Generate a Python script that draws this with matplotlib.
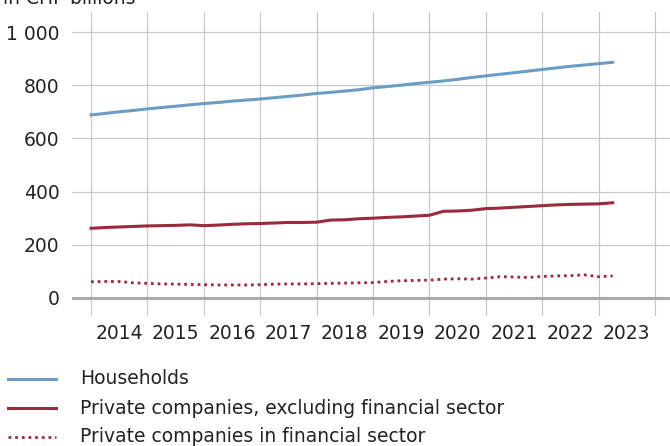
import matplotlib
matplotlib.use("Agg")
import matplotlib.pyplot as plt
from matplotlib.lines import Line2D
import numpy as np

plt.rcParams['font.family'] = ['DejaVu Sans']

# Quarterly time points (decimal years)
quarters = [2014.0 + 0.25 * i for i in range(38)]

households = [688, 694, 700, 705, 711, 716, 721, 726, 731, 735, 740, 744,
              748, 753, 758, 763, 769, 773, 778, 783, 790, 795, 800, 806,
              811, 816, 822, 829, 835, 841, 847, 853, 859, 865, 871, 876,
              881, 886]
private_nonfin = [262, 265, 267, 269, 271, 272, 273, 275, 272, 274, 277, 279,
                  280, 282, 284, 284, 285, 293, 294, 298, 300, 303, 305, 308,
                  311, 326, 327, 330, 336, 338, 341, 344, 347, 350, 352, 353,
                  354, 358]
private_fin = [61, 62, 62, 57, 55, 53, 52, 51, 50, 49, 49, 49,
               50, 52, 53, 53, 54, 55, 56, 57, 58, 62, 65, 66,
               67, 71, 72, 71, 75, 80, 79, 77, 81, 83, 84, 87,
               80, 83]

series_labels = ["Households",
                 "Private companies, excluding financial sector",
                 "Private companies in financial sector"]
year_labels = [str(y) for y in range(2014, 2024)]
y_ticks = [0, 200, 400, 600, 800, 1000]
y_tick_labels = ["0", "200", "400", "600", "800", "1 000"]
unit_label = "in CHF billions"

blue = "#6a9cc6"
red = "#9b2a3a"
grid_c = "#c8c8c8"
text_c = "#222222"

W, H = 670, 446
fig = plt.figure(figsize=(W / 100, H / 100), dpi=100)
ax = fig.add_axes([72 / W, 1 - 316 / H, (670 - 72) / W, (316 - 12) / H])

ax.set_xlim(2013.663, 2024.266)
ax.set_ylim(-67.7, 1075.2)

for s in ax.spines.values():
    s.set_visible(False)

ax.set_yticks(y_ticks)
ax.set_yticklabels(y_tick_labels)
ax.set_xticks(list(range(2014, 2025)))
ax.set_xticklabels([])
ax.set_xticks([y + 0.5 for y in range(2014, 2024)], minor=True)
ax.set_xticklabels(year_labels, minor=True)
ax.tick_params(axis='both', which='both', length=0, labelsize=13.5, colors=text_c)
ax.tick_params(axis='y', pad=9)
ax.tick_params(axis='x', which='minor', pad=6)

ax.grid(True, which='major', color=grid_c, lw=0.9)
ax.set_axisbelow(True)
ax.axhline(0, color='#aaaaaa', lw=2.2, zorder=1.5)

ax.plot(quarters, households, color=blue, lw=2.2, zorder=3)
ax.plot(quarters, private_nonfin, color=red, lw=2.2, zorder=3)
ax.plot(quarters, private_fin, color=red, lw=2.0, linestyle=(0, (1, 1.4)), zorder=3)

fig.text(3 / W, 1 - 4 / H, unit_label, fontsize=13.5, ha='left', va='baseline', color=text_c)

styles = [dict(color=blue, lw=2.2, ls='-'),
          dict(color=red, lw=2.2, ls='-'),
          dict(color=red, lw=2.0, ls=(0, (1, 1.4)))]
rows = [379, 408, 437]
for lab, st, yy in zip(series_labels, styles, rows):
    yf = 1 - yy / H
    fig.add_artist(Line2D([8 / W, 56 / W], [yf, yf], transform=fig.transFigure, **st))
    fig.text(80 / W, yf, lab, fontsize=13.5, ha='left', va='center', color=text_c)

fig.savefig("out.png", dpi=100)
